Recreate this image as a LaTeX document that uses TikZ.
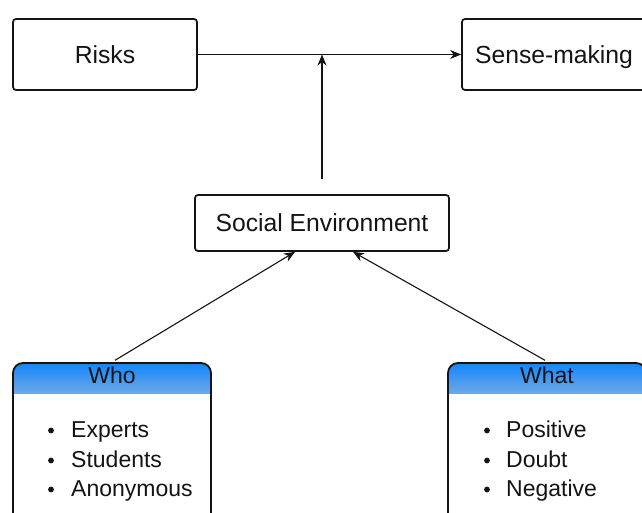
\documentclass[tikz,border=0pt]{standalone}
\usepackage{fontspec}
\setmainfont{Liberation Sans}
\usetikzlibrary{arrows.meta}
\definecolor{headtop}{RGB}{18,134,250}
\definecolor{headbot}{RGB}{112,168,230}
\definecolor{ink}{RGB}{20,20,20}
\begin{document}
\begin{tikzpicture}[x=1pt,y=-1pt,
  mainbox/.style={draw=ink,line width=1.7pt,rounded corners=3pt,inner sep=0pt,
    font=\fontsize{24.7}{28}\selectfont,text=ink,text height=17.7pt,text depth=0pt},
  conn/.style={draw=ink,line width=1.1pt,-{Stealth[length=11pt,width=9pt,inset=3.5pt]}},
  headtext/.style={font=\fontsize{23}{28}\selectfont,text=ink,inner sep=0pt,
    text height=16.5pt,text depth=0pt},
  itemtext/.style={font=\fontsize{23}{28}\selectfont,text=ink,inner sep=0pt,anchor=base west}
]
\useasboundingbox (0,0) rectangle (642,513);
\clip (0,0) rectangle (642,513);

% top row and middle box
\node[mainbox,minimum width=184pt,minimum height=71pt] (risks) at (105,54.5) {Risks};
\node[mainbox,minimum width=184pt,minimum height=71pt] (sense) at (554,54.5) {Sense-making};
\node[mainbox,minimum width=254pt,minimum height=56pt] (social) at (322,223) {Social Environment};
\coordinate (up) at ([yshift=15pt]social.north);

% list boxes: gradient header clipped to the rounded outline
\foreach \l/\r/\nm/\ttl in {13/211/who/Who,448/646/what/What}{
  \begin{scope}
    \clip[rounded corners=10pt] (\l,560) -- (\l,363) -- (\r,363) -- (\r,560) -- cycle;
    \shade[top color=headtop,bottom color=headbot] (\l,363) rectangle (\r,393);
  \end{scope}
  \draw[ink,line width=1.8pt,rounded corners=10pt] (\l,560) -- (\l,363) -- (\r,363) -- (\r,560);
  \node[headtext,minimum width={\r-\l},minimum height=30pt] (\nm) at ({(\l+\r)/2},375.5) {\ttl};
}

% bullet items
\foreach \t/\yy in {Experts/437,Students/467,Anonymous/496}{
  \fill[ink] (51,\yy-6.5) circle (2.9pt);
  \node[itemtext] at (71,\yy) {\t};
}
\foreach \t/\yy in {Positive/437,Doubt/467,Negative/496}{
  \fill[ink] (487,\yy-6.5) circle (2.9pt);
  \node[itemtext] at (506,\yy) {\t};
}

% connectors
\draw[conn] (risks.east) -- (sense.west);
\draw[conn] (up) -- (up |- risks.east);
\draw[conn] ([xshift=3pt]who.north) -- ([xshift=-27pt]social.south);
\draw[conn] ([xshift=-2pt]what.north) -- ([xshift=31pt]social.south);
\end{tikzpicture}
\end{document}
